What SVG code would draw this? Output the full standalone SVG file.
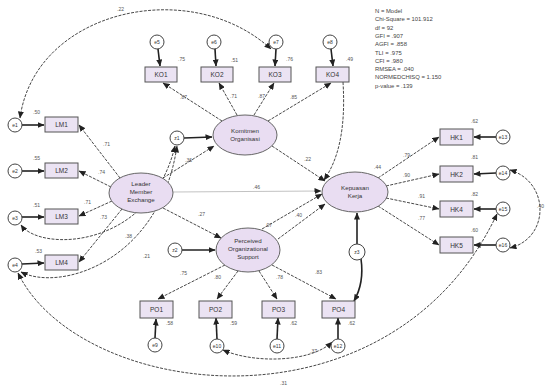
<svg xmlns="http://www.w3.org/2000/svg" width="545" height="389" viewBox="0 0 545 389">
<defs>
<marker id="ah" markerWidth="7" markerHeight="6" refX="6.5" refY="3" orient="auto" markerUnits="userSpaceOnUse"><path d="M0,0 L7,3 L0,6 z" fill="#222"/></marker>
<marker id="as" markerWidth="7" markerHeight="6" refX="0.5" refY="3" orient="auto" markerUnits="userSpaceOnUse"><path d="M7,0 L0,3 L7,6 z" fill="#222"/></marker>
<style>
text{font-family:"Liberation Sans",Arial,sans-serif;fill:#333}
.obs{fill:#ebe3f3;stroke:#555;stroke-width:1}
.lat{fill:#e9ddf2;stroke:#666;stroke-width:1}
.err{fill:#fff;stroke:#444;stroke-width:1}
.nl{font-size:6.5px;text-anchor:middle}
.el{font-size:5px;text-anchor:middle}
.ll{font-size:6.2px;text-anchor:middle}
.cf{font-size:5px;fill:#555}
.st{font-size:5.9px;fill:#444}
.c{fill:none;stroke:#333;stroke-width:0.9;stroke-dasharray:3 1.3}
.ce{fill:none;stroke:#222;stroke-width:1.6}
.cg{fill:none;stroke:#bbb;stroke-width:0.9}
</style>
</defs>

<g id="fit">
<text class="st" x="375" y="13">N = Model</text>
<text class="st" x="375" y="21.3">Chi-Square = 101.912</text>
<text class="st" x="375" y="29.6">df = 92</text>
<text class="st" x="375" y="37.9">GFI = .907</text>
<text class="st" x="375" y="46.2">AGFI = .858</text>
<text class="st" x="375" y="54.5">TLI = .975</text>
<text class="st" x="375" y="62.8">CFI = .980</text>
<text class="st" x="375" y="71.1">RMSEA = .040</text>
<text class="st" x="375" y="79.4">NORMEDCHISQ = 1.150</text>
<text class="st" x="375" y="87.7">p-value = .139</text>
</g>

<g id="connectors">
<path class="c" d="M20,118 C35,10 190,-25 271,49" marker-start="url(#as)" marker-end="url(#ah)"/>
<path class="c" d="M21,225 C40,252 150,250 175,146" marker-start="url(#as)" marker-end="url(#ah)"/>
<path class="c" d="M21,272 C60,292 160,262 177,146" marker-start="url(#as)" marker-end="url(#ah)"/>
<path class="c" d="M18,273 C80,400 390,440 497,214" marker-start="url(#as)" marker-end="url(#ah)"/>
<path class="c" d="M510,170 C550,182 550,238 510,248" marker-start="url(#as)" marker-end="url(#ah)"/>
<path class="c" d="M223,350 C255,364 312,362 332,342" marker-start="url(#as)" marker-end="url(#ah)"/>
<path class="ce" d="M361,259 C364,280 358,294 354,301" marker-end="url(#ah)"/>
<path class="c" d="M343,82 C346,130 338,160 324,180" marker-end="url(#ah)"/>
<line class="c" x1="120" y1="178" x2="79" y2="125" marker-end="url(#ah)"/>
<line class="c" x1="111" y1="187" x2="79" y2="171" marker-end="url(#ah)"/>
<line class="c" x1="112" y1="201" x2="79" y2="216" marker-end="url(#ah)"/>
<line class="c" x1="122" y1="209" x2="79" y2="262" marker-end="url(#ah)"/>
<line class="c" x1="222" y1="121" x2="163" y2="83" marker-end="url(#ah)"/>
<line class="c" x1="237" y1="115" x2="219" y2="83" marker-end="url(#ah)"/>
<line class="c" x1="254" y1="115" x2="274" y2="83" marker-end="url(#ah)"/>
<line class="c" x1="268" y1="121" x2="331" y2="83" marker-end="url(#ah)"/>
<line class="c" x1="225" y1="265" x2="158" y2="299" marker-end="url(#ah)"/>
<line class="c" x1="238" y1="271" x2="217" y2="299" marker-end="url(#ah)"/>
<line class="c" x1="259" y1="271" x2="277" y2="299" marker-end="url(#ah)"/>
<line class="c" x1="272" y1="265" x2="336" y2="299" marker-end="url(#ah)"/>
<line class="c" x1="378" y1="178" x2="439" y2="137" marker-end="url(#ah)"/>
<line class="c" x1="386" y1="186" x2="439" y2="174" marker-end="url(#ah)"/>
<line class="c" x1="386" y1="198" x2="439" y2="209" marker-end="url(#ah)"/>
<line class="c" x1="378" y1="206" x2="439" y2="245" marker-end="url(#ah)"/>
<line class="c" x1="163" y1="178" x2="214" y2="146" marker-end="url(#ah)"/>
<line class="ce" x1="184" y1="138" x2="212" y2="137" marker-end="url(#ah)"/>
<line class="c" x1="163" y1="208" x2="221" y2="238" marker-end="url(#ah)"/>
<line class="ce" x1="182" y1="250" x2="215" y2="250" marker-end="url(#ah)"/>
<line class="cg" x1="173" y1="192" x2="321" y2="191" marker-end="url(#ah)"/>
<line class="c" x1="272" y1="146" x2="325" y2="181" marker-end="url(#ah)"/>
<line class="c" x1="262" y1="229" x2="322" y2="194" marker-end="url(#ah)"/>
<line class="c" x1="278" y1="239" x2="325" y2="204" marker-end="url(#ah)"/>
<line class="ce" x1="357" y1="244" x2="357" y2="213" marker-end="url(#ah)"/>
<line class="ce" x1="22" y1="125" x2="44" y2="125" marker-end="url(#ah)"/>
<line class="ce" x1="22" y1="171" x2="44" y2="171" marker-end="url(#ah)"/>
<line class="ce" x1="22" y1="217" x2="44" y2="217" marker-end="url(#ah)"/>
<line class="ce" x1="22" y1="264" x2="44" y2="263" marker-end="url(#ah)"/>
<line class="ce" x1="158" y1="49" x2="160" y2="66" marker-end="url(#ah)"/>
<line class="ce" x1="215" y1="49" x2="216" y2="66" marker-end="url(#ah)"/>
<line class="ce" x1="276" y1="49" x2="275" y2="66" marker-end="url(#ah)"/>
<line class="ce" x1="331" y1="49" x2="333" y2="66" marker-end="url(#ah)"/>
<line class="ce" x1="155" y1="338" x2="156" y2="319" marker-end="url(#ah)"/>
<line class="ce" x1="217" y1="339" x2="216" y2="318" marker-end="url(#ah)"/>
<line class="ce" x1="277" y1="339" x2="278" y2="318" marker-end="url(#ah)"/>
<line class="ce" x1="338" y1="339" x2="338" y2="318" marker-end="url(#ah)"/>
<line class="ce" x1="496" y1="137" x2="474" y2="137" marker-end="url(#ah)"/>
<line class="ce" x1="496" y1="173" x2="474" y2="174" marker-end="url(#ah)"/>
<line class="ce" x1="496" y1="209" x2="474" y2="209" marker-end="url(#ah)"/>
<line class="ce" x1="496" y1="245" x2="474" y2="245" marker-end="url(#ah)"/>
</g>

<g id="coefs">
<text class="cf" x="103" y="146">.71</text>
<text class="cf" x="98" y="174">.74</text>
<text class="cf" x="84" y="204">.71</text>
<text class="cf" x="100" y="219">.73</text>
<text class="cf" x="33" y="114">.50</text>
<text class="cf" x="33" y="160">.55</text>
<text class="cf" x="33" y="207">.51</text>
<text class="cf" x="35" y="253">.53</text>
<text class="cf" x="180" y="99">.87</text>
<text class="cf" x="230" y="98">.71</text>
<text class="cf" x="258" y="98">.87</text>
<text class="cf" x="290" y="99">.85</text>
<text class="cf" x="178" y="61">.75</text>
<text class="cf" x="231" y="62">.51</text>
<text class="cf" x="286" y="61">.76</text>
<text class="cf" x="346" y="61">.49</text>
<text class="cf" x="304" y="161">.22</text>
<text class="cf" x="253" y="189">.46</text>
<text class="cf" x="185" y="162">.36</text>
<text class="cf" x="295" y="217">.40</text>
<text class="cf" x="265" y="227">.07</text>
<text class="cf" x="198" y="216">.27</text>
<text class="cf" x="180" y="275">.75</text>
<text class="cf" x="214" y="279">.80</text>
<text class="cf" x="276" y="279">.78</text>
<text class="cf" x="315" y="274">.83</text>
<text class="cf" x="166" y="325">.58</text>
<text class="cf" x="230" y="325">.59</text>
<text class="cf" x="290" y="325">.62</text>
<text class="cf" x="348" y="325">.62</text>
<text class="cf" x="403" y="157">.79</text>
<text class="cf" x="403" y="177">.90</text>
<text class="cf" x="418" y="198">.91</text>
<text class="cf" x="418" y="220">.77</text>
<text class="cf" x="471" y="123">.62</text>
<text class="cf" x="471" y="159">.81</text>
<text class="cf" x="471" y="196">.82</text>
<text class="cf" x="471" y="232">.60</text>
<text class="cf" x="374" y="169">.44</text>
<text class="cf" x="310" y="353">.37</text>
<text class="cf" x="280" y="385">.31</text>
<text class="cf" x="117" y="11">.22</text>
<text class="cf" x="125" y="238">.38</text>
<text class="cf" x="143" y="258">.21</text>
<text class="cf" x="537" y="208">.40</text>
</g>

<g id="LMX"><ellipse class="lat" cx="141" cy="193" rx="32" ry="20"/><text class="ll" x="141" y="186">Leader</text><text class="ll" x="141" y="194">Member</text><text class="ll" x="141" y="202">Exchange</text></g>
<g id="KOM"><ellipse class="lat" cx="245" cy="135" rx="32" ry="20"/><text class="ll" x="245" y="133">Komitmen</text><text class="ll" x="245" y="141">Organisasi</text></g>
<g id="POS"><ellipse class="lat" cx="248" cy="250" rx="32" ry="22"/><text class="ll" x="248" y="243">Perceived</text><text class="ll" x="248" y="251">Organizational</text><text class="ll" x="248" y="259">Support</text></g>
<g id="KEP"><ellipse class="lat" cx="355" cy="192" rx="33" ry="20"/><text class="ll" x="355" y="190">Kepuasan</text><text class="ll" x="355" y="198">Kerja</text></g>

<g id="LM1"><rect class="obs" x="45" y="117" width="33" height="15"/><text class="nl" x="61.5" y="127">LM1</text></g>
<g id="LM2"><rect class="obs" x="45" y="163" width="33" height="15"/><text class="nl" x="61.5" y="173">LM2</text></g>
<g id="LM3"><rect class="obs" x="45" y="209" width="33" height="15"/><text class="nl" x="61.5" y="219">LM3</text></g>
<g id="LM4"><rect class="obs" x="45" y="255" width="33" height="15"/><text class="nl" x="61.5" y="265">LM4</text></g>
<g id="KO1"><rect class="obs" x="145" y="67" width="32" height="15"/><text class="nl" x="161" y="77">KO1</text></g>
<g id="KO2"><rect class="obs" x="201" y="67" width="32" height="15"/><text class="nl" x="217" y="77">KO2</text></g>
<g id="KO3"><rect class="obs" x="259" y="67" width="32" height="15"/><text class="nl" x="275" y="77">KO3</text></g>
<g id="KO4"><rect class="obs" x="316" y="67" width="33" height="15"/><text class="nl" x="332.5" y="77">KO4</text></g>
<g id="PO1"><rect class="obs" x="140" y="301" width="33" height="17"/><text class="nl" x="156.5" y="312">PO1</text></g>
<g id="PO2"><rect class="obs" x="199" y="301" width="33" height="17"/><text class="nl" x="215.5" y="312">PO2</text></g>
<g id="PO3"><rect class="obs" x="262" y="301" width="33" height="17"/><text class="nl" x="278.5" y="312">PO3</text></g>
<g id="PO4"><rect class="obs" x="322" y="301" width="33" height="17"/><text class="nl" x="338.5" y="312">PO4</text></g>
<g id="HK1"><rect class="obs" x="440" y="129" width="33" height="16"/><text class="nl" x="456.5" y="139.5">HK1</text></g>
<g id="HK2"><rect class="obs" x="440" y="166" width="33" height="16"/><text class="nl" x="456.5" y="176.5">HK2</text></g>
<g id="HK4"><rect class="obs" x="440" y="201" width="33" height="16"/><text class="nl" x="456.5" y="211.5">HK4</text></g>
<g id="HK5"><rect class="obs" x="440" y="237" width="33" height="16"/><text class="nl" x="456.5" y="247.5">HK5</text></g>

<g id="e1"><circle class="err" cx="15" cy="125" r="7"/><text class="el" x="15" y="127">e1</text></g>
<g id="e2"><circle class="err" cx="15" cy="171" r="7"/><text class="el" x="15" y="173">e2</text></g>
<g id="e3"><circle class="err" cx="15" cy="218" r="7"/><text class="el" x="15" y="220">e3</text></g>
<g id="e4"><circle class="err" cx="15" cy="265" r="7"/><text class="el" x="15" y="267">e4</text></g>
<g id="e5"><circle class="err" cx="157" cy="42" r="7"/><text class="el" x="157" y="44">e5</text></g>
<g id="e6"><circle class="err" cx="214" cy="42" r="7"/><text class="el" x="214" y="44">e6</text></g>
<g id="e7"><circle class="err" cx="276" cy="42" r="7"/><text class="el" x="276" y="44">e7</text></g>
<g id="e8"><circle class="err" cx="330" cy="42" r="7"/><text class="el" x="330" y="44">e8</text></g>
<g id="e9"><circle class="err" cx="155" cy="345" r="7"/><text class="el" x="155" y="347">e9</text></g>
<g id="e10"><circle class="err" cx="217" cy="346" r="7"/><text class="el" x="217" y="348">e10</text></g>
<g id="e11"><circle class="err" cx="277" cy="346" r="7"/><text class="el" x="277" y="348">e11</text></g>
<g id="e12"><circle class="err" cx="338" cy="346" r="7"/><text class="el" x="338" y="348">e12</text></g>
<g id="e13"><circle class="err" cx="503" cy="137" r="7"/><text class="el" x="503" y="139">e13</text></g>
<g id="e14"><circle class="err" cx="503" cy="173" r="7"/><text class="el" x="503" y="175">e14</text></g>
<g id="e15"><circle class="err" cx="503" cy="209" r="7"/><text class="el" x="503" y="211">e15</text></g>
<g id="e16"><circle class="err" cx="503" cy="245" r="7"/><text class="el" x="503" y="247">e16</text></g>
<g id="z1"><circle class="err" cx="177" cy="138" r="7"/><text class="el" x="177" y="140">z1</text></g>
<g id="z2"><circle class="err" cx="175" cy="250" r="7"/><text class="el" x="175" y="252">z2</text></g>
<g id="z3"><circle class="err" cx="357" cy="252" r="8"/><text class="el" x="357" y="254">z3</text></g>
</svg>
